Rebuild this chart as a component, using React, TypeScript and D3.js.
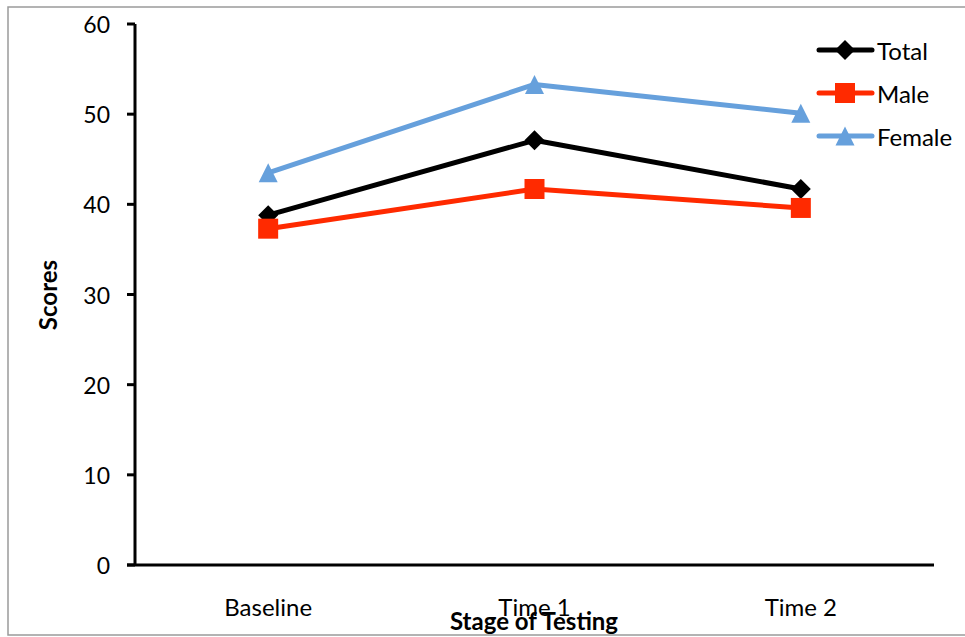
import React from "react";
import * as d3 from "d3";

const categories = ["Baseline", "Time 1", "Time 2"];
const seriesNames = ["Total", "Male", "Female"];
const totalScores = [38.8, 47.1, 41.7];
const maleScores = [37.3, 41.7, 39.6];
const femaleScores = [43.5, 53.3, 50.1];
const yTicks = [0, 10, 20, 30, 40, 50, 60];

const W = 965;
const H = 637;
const FONT = "Lato, 'Open Sans', sans-serif";

const series = [
  { name: seriesNames[0], values: totalScores, color: "#000000", marker: "diamond" },
  { name: seriesNames[1], values: maleScores, color: "#FF2A00", marker: "square" },
  { name: seriesNames[2], values: femaleScores, color: "#66A0DC", marker: "triangle" },
];

function Marker({ type, x, y, color }: { type: string; x: number; y: number; color: string }) {
  if (type === "square") {
    return <rect x={x - 10} y={y - 10} width={20} height={20} fill={color} />;
  }
  if (type === "diamond") {
    const r = 10;
    return <path d={`M${x},${y - r}L${x + r},${y}L${x},${y + r}L${x - r},${y}Z`} fill={color} />;
  }
  const h = 19;
  const w = 19;
  return (
    <path
      d={`M${x},${y - h / 2}L${x + w / 2},${y + h / 2}L${x - w / 2},${y + h / 2}Z`}
      fill={color}
    />
  );
}

export default function App() {
  const x = d3.scaleBand<string>().domain(categories).range([135, 934]);
  const y = d3.scaleLinear().domain([0, 60]).range([565, 24]);
  const cx = (c: string) => (x(c) as number) + x.bandwidth() / 2;

  const line = d3
    .line<number>()
    .x((_, i) => cx(categories[i]))
    .y((d) => y(d));

  return (
    <svg
      width={W}
      height={H}
      style={{ position: "absolute", left: 0, top: 0, background: "#fff" }}
    >
      {/* chart frame */}
      <rect x={8} y={7} width={W + 10} height={628} fill="none" stroke="#9a9a9a" strokeWidth={1.5} />

      {/* y axis */}
      <line x1={135} x2={135} y1={y(60)} y2={y(0)} stroke="#000" strokeWidth={3} />
      {yTicks.map((t) => (
        <g key={t}>
          <line x1={127} x2={135} y1={y(t)} y2={y(t)} stroke="#000" strokeWidth={3} />
          <text
            x={110}
            y={y(t)}
            textAnchor="end"
            dominantBaseline="central"
            fontFamily={FONT}
            fontSize={23}
            fill="#000"
          >
            {t}
          </text>
        </g>
      ))}

      {/* x axis */}
      <line x1={127} x2={934} y1={y(0)} y2={y(0)} stroke="#000" strokeWidth={3} />
      {categories.map((c) => (
        <text
          key={c}
          x={cx(c)}
          y={616}
          textAnchor="middle"
          fontFamily={FONT}
          fontSize={24}
          fill="#000"
        >
          {c}
        </text>
      ))}

      {/* axis titles */}
      <text
        x={534}
        y={630}
        textAnchor="middle"
        fontFamily={FONT}
        fontSize={24}
        fontWeight="bold"
        fill="#000"
      >
        Stage of Testing
      </text>
      <text
        transform={`translate(57,${295}) rotate(-90)`}
        textAnchor="middle"
        fontFamily={FONT}
        fontSize={24}
        fontWeight="bold"
        fill="#000"
      >
        Scores
      </text>

      {/* series */}
      {series.map((s) => (
        <g key={s.name}>
          <path
            d={line(s.values) as string}
            fill="none"
            stroke={s.color}
            strokeWidth={5}
            strokeLinejoin="round"
            strokeLinecap="round"
          />
          {s.values.map((v, i) => (
            <Marker key={i} type={s.marker} x={cx(categories[i])} y={y(v)} color={s.color} />
          ))}
        </g>
      ))}

      {/* legend */}
      {series.map((s, i) => {
        const ly = 50 + i * 43;
        return (
          <g key={s.name}>
            <line
              x1={819}
              x2={872}
              y1={ly}
              y2={ly}
              stroke={s.color}
              strokeWidth={5}
              strokeLinecap="round"
            />
            <Marker type={s.marker} x={845} y={ly} color={s.color} />
            <text
              x={877}
              y={ly}
              dominantBaseline="central"
              fontFamily={FONT}
              fontSize={24}
              fill="#000"
            >
              {s.name}
            </text>
          </g>
        );
      })}
    </svg>
  );
}
